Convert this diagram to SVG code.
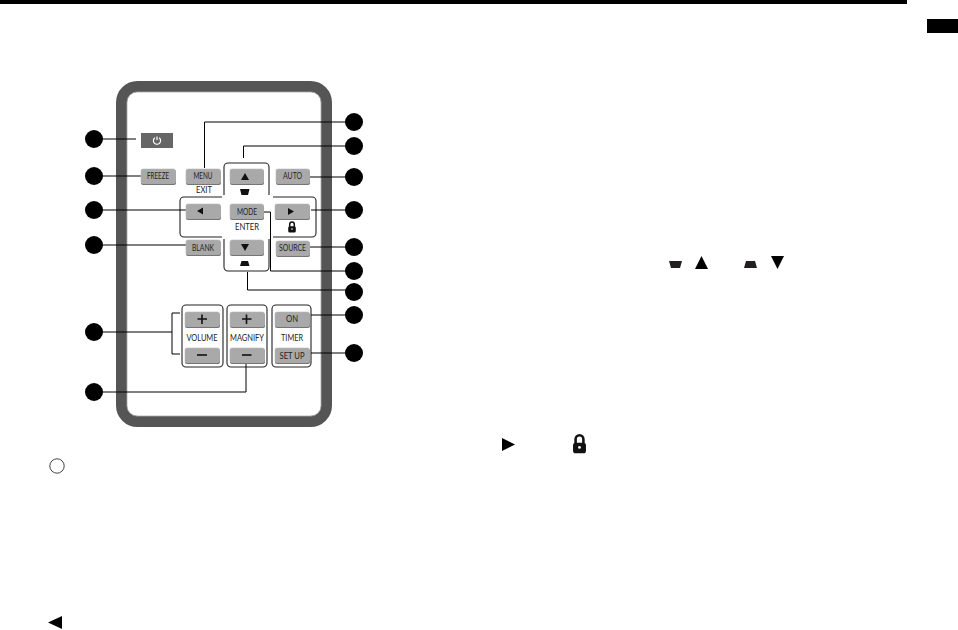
<svg xmlns="http://www.w3.org/2000/svg" width="958" height="630" viewBox="0 0 958 630">
<style>
text{font-family:"Lato","Liberation Sans",Arial,sans-serif;text-anchor:middle;font-size:8.5px;fill:#222}
.btn{fill:#a9a9a9;stroke:#b8b8b8;stroke-width:.6}
.sh{fill:#757575}
.dot{fill:#000}
.line{fill:none;stroke:#000;stroke-width:1}
.frame{fill:none;stroke:#222;stroke-width:1.1}
.k{fill:#111}
</style>
<defs>
<g id="lock"><path d="M-2.300 0V-2.800a2.300 2.300 0 0 1 4.600 0V0" fill="none" stroke="#111" stroke-width="1.500"/><rect x="-3.800" y="-.8" width="7.600" height="6.300" rx="1.500" fill="#111"/><circle cx="0" cy="2" r=".8" fill="#fff"/></g>
</defs>
<rect x="0" y="0" width="907" height="4" fill="#000"/>
<rect x="927" y="19" width="31" height="14" fill="#000"/>
<g id="remote">
<rect x="121.500" y="86.500" width="205" height="335" rx="16" fill="#fff" stroke="#555" stroke-width="11"/>
<rect x="127" y="92" width="194" height="324" rx="10" fill="none" stroke="#aaa" stroke-width=".8"/>
</g>
<g id="frames">
<path class="frame" d="M224 195V167a4 4 0 0 1 4-4H265a4 4 0 0 1 4 4V195"/>
<path class="frame" d="M273 197H312a4 4 0 0 1 4 4V233a4 4 0 0 1-4 4H273"/>
<path class="frame" d="M224 239V267a4 4 0 0 0 4 4H265a4 4 0 0 0 4-4V239"/>
<path class="frame" d="M222 197H184a4 4 0 0 0-4 4V233a4 4 0 0 0 4 4H222"/>
<rect class="frame" x="182" y="305" width="41" height="62" rx="4"/>
<rect class="frame" x="227" y="305" width="40" height="62" rx="4"/>
<rect class="frame" x="272" y="305" width="39" height="62" rx="4"/>
</g>
<g id="connectors">
<path class="line" d="M94 139H136"/>
<path class="line" d="M94 176H141"/>
<path class="line" d="M94 210H186"/>
<path class="line" d="M94 245H186"/>
<path class="line" d="M94 332H172M180 313H172V354H180"/>
<path class="line" d="M94 392H246V363"/>
<path class="line" d="M354 122H204.500V168"/>
<path class="line" d="M354 146H243.500V158"/>
<path class="line" d="M354 177H310"/>
<path class="line" d="M354 210H311"/>
<path class="line" d="M354 247H310"/>
<path class="line" d="M354 271H270.500V212H264"/>
<path class="line" d="M354 290H247.500V272"/>
<path class="line" d="M354 315H311"/>
<path class="line" d="M354 353H311"/>
</g>
<g id="btn-power"><rect x="141" y="133" width="32" height="15" fill="#666"/><path d="M157 136.500V140M154.800 137.800a3.600 3.600 0 1 0 4.400 0" fill="none" stroke="#fff" stroke-width="1.200"/></g>
<g id="btn-freeze"><rect class="sh" x="141" y="170" width="35" height="15" rx="2"/><rect class="btn" x="141" y="169" width="34.500" height="14.500" rx="2"/><text x="158" y="179" textLength="22" lengthAdjust="spacingAndGlyphs">FREEZE</text></g>
<g id="btn-menu"><rect class="sh" x="186" y="170" width="35" height="15" rx="2"/><rect class="btn" x="186" y="169" width="34.500" height="14.500" rx="2"/><text x="203" y="179" textLength="19" lengthAdjust="spacingAndGlyphs">MENU</text><text x="204" y="193" textLength="16" lengthAdjust="spacingAndGlyphs">EXIT</text></g>
<g id="btn-up"><rect class="sh" x="230" y="170" width="34" height="15" rx="2"/><rect class="btn" x="230" y="169" width="33.500" height="14.500" rx="2"/><path class="k" d="M241 180H249L245 173Z"/><path class="k" d="M240 189H249.500L248 195H241.500Z"/></g>
<g id="btn-auto"><rect class="sh" x="276" y="170" width="34" height="15" rx="2"/><rect class="btn" x="276" y="169" width="33.500" height="14.500" rx="2"/><text x="292.500" y="179" textLength="19" lengthAdjust="spacingAndGlyphs">AUTO</text></g>
<g id="btn-left"><rect class="sh" x="186" y="205" width="35" height="15" rx="2"/><rect class="btn" x="186" y="204" width="34.500" height="14.500" rx="2"/><path class="k" d="M197 211L203 207.500V214.500Z"/></g>
<g id="btn-mode"><rect class="sh" x="230" y="205" width="34" height="15" rx="2"/><rect class="btn" x="230" y="204" width="33.500" height="14.500" rx="2"/><text x="247" y="215" textLength="20" lengthAdjust="spacingAndGlyphs">MODE</text><text x="247" y="230" textLength="24" lengthAdjust="spacingAndGlyphs">ENTER</text></g>
<g id="btn-right"><rect class="sh" x="275" y="205" width="35" height="15" rx="2"/><rect class="btn" x="275" y="204" width="34.500" height="14.500" rx="2"/><path class="k" d="M288 208V215L294 211.500Z"/><use href="#lock" x="292" y="227"/></g>
<g id="btn-blank"><rect class="sh" x="186" y="241" width="35" height="15" rx="2"/><rect class="btn" x="186" y="240" width="34.500" height="14.500" rx="2"/><text x="203" y="251" textLength="22" lengthAdjust="spacingAndGlyphs">BLANK</text></g>
<g id="btn-down"><rect class="sh" x="230" y="241" width="34" height="15" rx="2"/><rect class="btn" x="230" y="240" width="33.500" height="14.500" rx="2"/><path class="k" d="M241 244H249L245 251Z"/><path class="k" d="M241.500 261H248L249.500 266H240Z"/></g>
<g id="btn-source"><rect class="sh" x="276" y="242" width="34" height="15" rx="2"/><rect class="btn" x="276" y="241" width="33.500" height="14.500" rx="2"/><text x="292.500" y="251" textLength="27" lengthAdjust="spacingAndGlyphs">SOURCE</text></g>
<g id="btn-volume"><rect class="sh" x="185" y="313" width="35" height="15" rx="2"/><rect class="btn" x="185" y="312" width="34.500" height="14.500" rx="2"/><path d="M202 314.500V324M197.500 319H207" stroke="#111" stroke-width="1.600"/><text x="202" y="341" textLength="31" lengthAdjust="spacingAndGlyphs">VOLUME</text><rect class="sh" x="185" y="349" width="35" height="15" rx="2"/><rect class="btn" x="185" y="348" width="34.500" height="14.500" rx="2"/><path d="M197 355H207" stroke="#111" stroke-width="1.600"/></g>
<g id="btn-magnify"><rect class="sh" x="230" y="313" width="35" height="15" rx="2"/><rect class="btn" x="230" y="312" width="34.500" height="14.500" rx="2"/><path d="M246.500 314.500V324M242 319H251.500" stroke="#111" stroke-width="1.600"/><text x="247" y="341" textLength="34" lengthAdjust="spacingAndGlyphs">MAGNIFY</text><rect class="sh" x="230" y="349" width="35" height="15" rx="2"/><rect class="btn" x="230" y="348" width="34.500" height="14.500" rx="2"/><path d="M242 355H251.500" stroke="#111" stroke-width="1.600"/></g>
<g id="btn-timer"><rect class="sh" x="275" y="313" width="35" height="15" rx="2"/><rect class="btn" x="275" y="312" width="34.500" height="14.500" rx="2"/><text x="292" y="322" textLength="12" lengthAdjust="spacingAndGlyphs">ON</text><text x="292" y="341" textLength="22" lengthAdjust="spacingAndGlyphs">TIMER</text><rect class="sh" x="275" y="349" width="35" height="15" rx="2"/><rect class="btn" x="275" y="348" width="34.500" height="14.500" rx="2"/><text x="292" y="358.500" textLength="25" lengthAdjust="spacingAndGlyphs">SET UP</text></g>
<g id="markers">
<circle class="dot" cx="94" cy="139" r="9"/><circle class="dot" cx="94" cy="176" r="9"/><circle class="dot" cx="94" cy="210" r="9"/><circle class="dot" cx="94" cy="245" r="9"/><circle class="dot" cx="94" cy="332" r="9"/><circle class="dot" cx="94" cy="392" r="9"/>
<circle class="dot" cx="354" cy="122" r="9"/><circle class="dot" cx="354" cy="146" r="9"/><circle class="dot" cx="354" cy="177" r="9"/><circle class="dot" cx="354" cy="210" r="9"/><circle class="dot" cx="354" cy="247" r="9"/><circle class="dot" cx="354" cy="271" r="9"/><circle class="dot" cx="354" cy="292" r="9"/><circle class="dot" cx="354" cy="315" r="9"/><circle class="dot" cx="354" cy="353" r="9"/>
</g>
<g id="glyphs">
<circle cx="57" cy="466" r="7.200" fill="none" stroke="#444" stroke-width="1"/>
<path d="M48 622.500L62 616V629Z" fill="#000"/>
<path d="M669 261H682L680 268H671Z" fill="#231f20"/>
<path d="M695 269H708L701.500 256Z" fill="#000"/>
<path d="M746 261H755L757 268H744Z" fill="#231f20"/>
<path d="M771 256H784L777.500 269Z" fill="#000"/>
<path d="M502 438V451L515 444.500Z" fill="#000"/>
<g transform="translate(579.500 444) scale(1.700)"><use href="#lock"/></g>
</g>
</svg>
